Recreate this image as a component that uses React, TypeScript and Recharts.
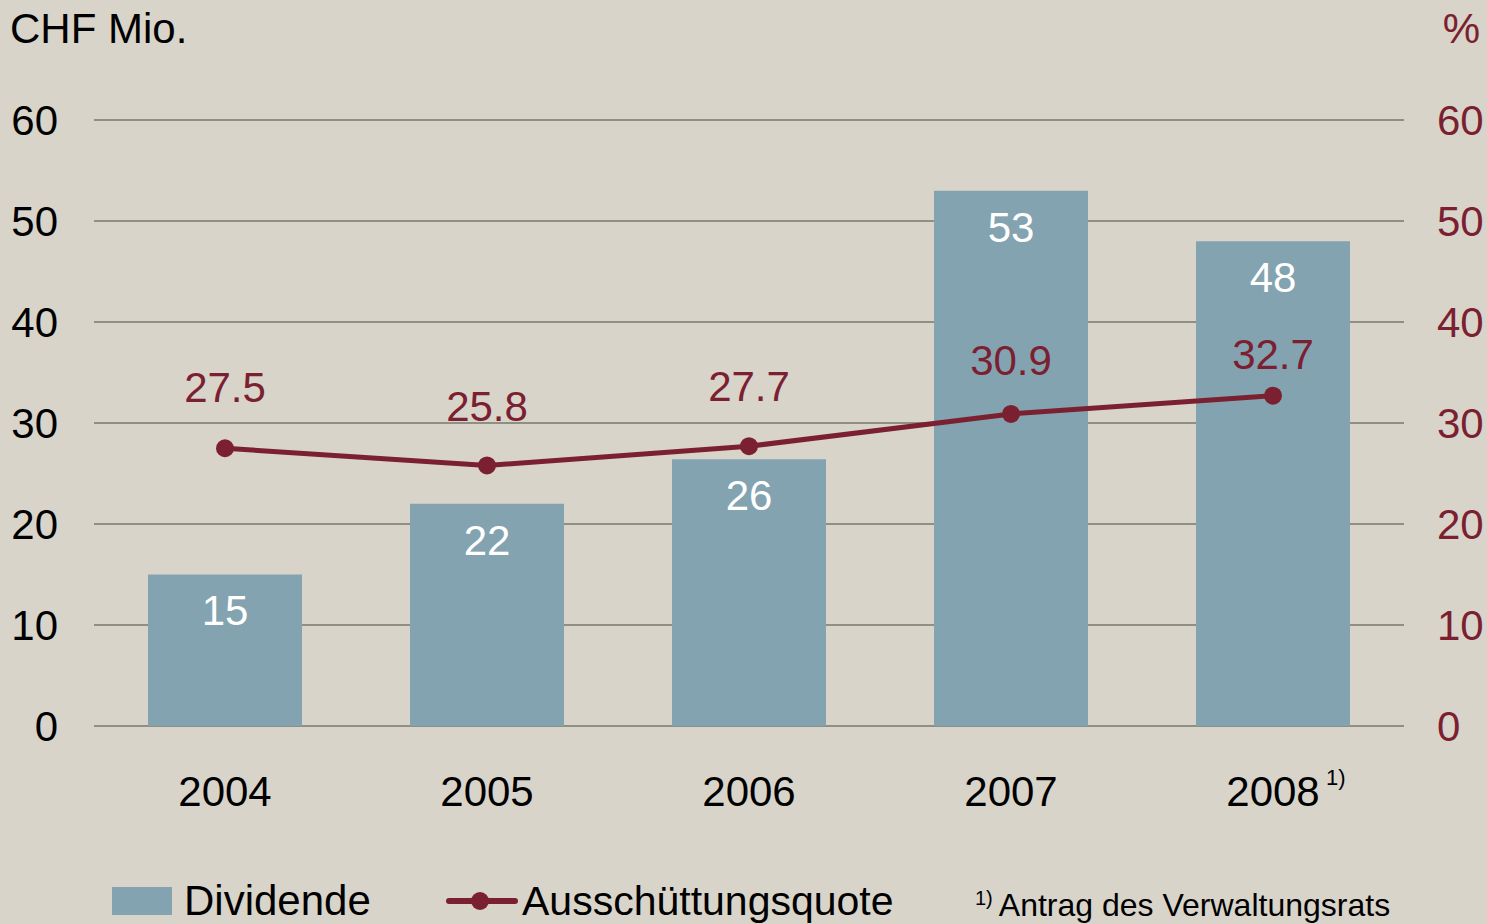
import React from "react";
import {
  ComposedChart,
  Bar,
  Line,
  XAxis,
  YAxis,
  CartesianGrid,
  LabelList,
} from "recharts";

const years = ["2004", "2005", "2006", "2007", "2008"];
const dividende = [15, 22, 26.4, 53, 48];
const quote = [27.5, 25.8, 27.7, 30.9, 32.7];
const axisTicks = [0, 10, 20, 30, 40, 50, 60];

// gap between a point and its value label, as in the original layout
const quoteLabelGap = [46, 44, 45, 39, 27];

const BG = "#d8d4ca";
const BLUE = "#84a3b0";
const RED = "#7b2030";
const GRID = "#8f8f84";
const FONT = "'Liberation Sans', Arial, sans-serif";

const data = years.map((year, i) => ({
  year,
  dividende: dividende[i],
  quote: quote[i],
}));

function YearTick(props: any) {
  const { x, y, payload } = props;
  return (
    <g>
      <text x={x} y={y} textAnchor="middle" fill="#000" fontSize={42} dy={30}>
        {payload.value}
      </text>
      {payload.value === "2008" && (
        <text x={x + 53} y={y} textAnchor="start" fill="#000" fontSize={22} dy={9}>
          1)
        </text>
      )}
    </g>
  );
}

function QuoteLabel(props: any) {
  const { x, y, value, index } = props;
  const gap = quoteLabelGap[index] ?? 46;
  return (
    <text x={x} y={y - gap} textAnchor="middle" fill={RED} fontSize={42}>
      {Number(value).toFixed(1)}
    </text>
  );
}

function LegendBlock() {
  return (
    <div
      style={{
        position: "absolute",
        left: 0,
        top: 862,
        width: 1487,
        height: 62,
        fontFamily: FONT,
        color: "#000",
        whiteSpace: "nowrap",
      }}
    >
      <div
        style={{
          position: "absolute",
          left: 112,
          top: 25,
          width: 60,
          height: 28,
          background: BLUE,
        }}
      />
      <div style={{ position: "absolute", left: 184, top: 17, fontSize: 42, lineHeight: "44px" }}>
        Dividende
      </div>
      <svg style={{ position: "absolute", left: 446, top: 25 }} width={72} height={28}>
        <line x1={3} y1={14} x2={69} y2={14} stroke={RED} strokeWidth={6} strokeLinecap="round" />
        <circle cx={34} cy={14} r={9} fill={RED} />
      </svg>
      <div style={{ position: "absolute", left: 522, top: 17, fontSize: 41, lineHeight: "44px" }}>
        Ausschüttungsquote
      </div>
      <div style={{ position: "absolute", left: 975, top: 19, fontSize: 32, lineHeight: "34px" }}>
        <span style={{ fontSize: 20, verticalAlign: "11px", marginRight: 6 }}>1)</span>
        Antrag des Verwaltungsrats
      </div>
    </div>
  );
}

export default function App() {
  return (
    <div
      style={{
        position: "absolute",
        left: 0,
        top: 0,
        width: 1487,
        height: 924,
        background: BG,
        fontFamily: FONT,
        overflow: "hidden",
      }}
    >
      <div
        style={{
          position: "absolute",
          left: 10,
          top: 8,
          fontSize: 42,
          lineHeight: "42px",
          color: "#000",
        }}
      >
        CHF Mio.
      </div>
      <div
        style={{
          position: "absolute",
          right: 7,
          top: 8,
          fontSize: 42,
          lineHeight: "42px",
          color: RED,
        }}
      >
        %
      </div>
      <ComposedChart
        width={1487}
        height={924}
        data={data}
        margin={{ top: 120, right: 23, left: 34, bottom: 168 }}
        barCategoryGap={0}
      >
        <CartesianGrid vertical={false} stroke={GRID} strokeWidth={2} yAxisId="left" />
        <XAxis
          dataKey="year"
          height={30}
          axisLine={false}
          tickLine={false}
          tickMargin={44}
          tick={<YearTick />}
          interval={0}
        />
        <YAxis
          yAxisId="left"
          orientation="left"
          width={60}
          domain={[0, 60]}
          ticks={axisTicks}
          interval={0}
          axisLine={false}
          tickLine={false}
          tickMargin={30}
          tick={{ fill: "#000", fontSize: 42 }}
        />
        <YAxis
          yAxisId="right"
          orientation="right"
          width={60}
          domain={[0, 60]}
          ticks={axisTicks}
          interval={0}
          axisLine={false}
          tickLine={false}
          tickMargin={27}
          tick={{ fill: RED, fontSize: 42, textAnchor: "start" }}
        />
        <Bar
          yAxisId="left"
          dataKey="dividende"
          name="Dividende"
          fill={BLUE}
          barSize={154}
          isAnimationActive={false}
        >
          <LabelList
            dataKey="dividende"
            position="insideTop"
            offset={21}
            fill="#fff"
            fontSize={42}
            formatter={(v: any) => Math.round(Number(v))}
          />
        </Bar>
        <Line
          yAxisId="right"
          dataKey="quote"
          name="Ausschüttungsquote"
          stroke={RED}
          strokeWidth={5}
          dot={{ r: 9, fill: RED, stroke: "none" }}
          activeDot={false}
          isAnimationActive={false}
        >
          <LabelList dataKey="quote" content={<QuoteLabel />} />
        </Line>
      </ComposedChart>
      <LegendBlock />
    </div>
  );
}
